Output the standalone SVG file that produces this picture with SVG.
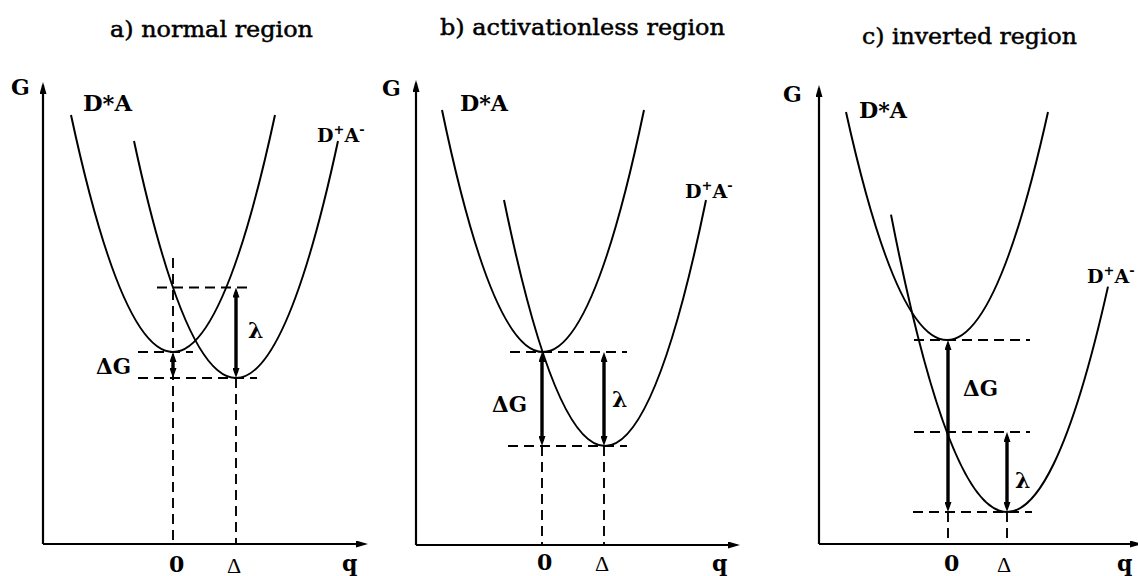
<svg xmlns="http://www.w3.org/2000/svg" width="1138" height="576" viewBox="0 0 1138 576">
<defs>
<marker id="ax" viewBox="0 0 12 7" refX="9" refY="3.5" markerWidth="12" markerHeight="7" markerUnits="userSpaceOnUse" orient="auto"><path d="M0,0 L12,3.5 L0,7 z" fill="#000"/></marker>
<marker id="ah" viewBox="0 0 10 7" refX="5" refY="3.5" markerWidth="10" markerHeight="7" markerUnits="userSpaceOnUse" orient="auto-start-reverse"><path d="M0,0 L10,3.5 L0,7 z" fill="#000"/></marker>
</defs>
<style>
.curve{fill:none;stroke:#000;stroke-width:2}
.dash{fill:none;stroke:#000;stroke-width:1.9;stroke-dasharray:10 6}
.axis{fill:none;stroke:#000;stroke-width:2.2;marker-end:url(#ax)}
.arr{fill:none;stroke:#000;stroke-width:3.4;marker-start:url(#ah);marker-end:url(#ah)}
.title{font-family:"DejaVu Serif","Liberation Serif",serif;font-size:23px;fill:#000;stroke:#000;stroke-width:0.5}
.lbl{font-family:"DejaVu Serif","Liberation Serif",serif;font-size:22px;font-weight:bold;fill:#000}
.da{font-family:"DejaVu Serif","Liberation Serif",serif;font-size:19px;font-weight:bold;fill:#000}
.sup{font-size:13px}
.sym{font-family:"Liberation Serif","DejaVu Serif",serif;font-size:22px;fill:#000}
</style>
<rect width="1138" height="576" fill="#fff"/>

<!-- Panel a -->
<g id="panel-a">
  <text id="a-title" class="title" x="110" y="37" textLength="203" lengthAdjust="spacingAndGlyphs">a) normal region</text>
  <g id="a-axes">
    <path class="axis" d="M43,544 L43,85"/>
    <path class="axis" d="M43,544 L365,544"/>
    <text class="lbl" x="11" y="95">G</text>
    <text class="lbl" x="342" y="571">q</text>
    <text class="lbl" x="169" y="572">0</text>
    <text class="sym" x="227" y="573">Δ</text>
  </g>
  <g id="a-DA">
    <path class="curve" d="M71,115 Q173,589 275,115"/>
    <text class="lbl" x="83" y="111" textLength="49" lengthAdjust="spacingAndGlyphs">D*A</text>
  </g>
  <g id="a-DpAm">
    <path class="curve" d="M134,141 Q236,615 338,141"/>
    <text class="da" x="317" y="142">D<tspan class="sup" dy="-8">+</tspan><tspan dy="8">A</tspan><tspan class="sup" dy="-8">-</tspan></text>
  </g>
  <g id="a-connectors">
    <path class="dash" d="M173,258 L173,544"/>
    <path class="dash" d="M236,378 L236,544"/>
    <path class="dash" d="M157,287.5 L252,287.5"/>
    <path class="dash" d="M138,352 L193,352"/>
    <path class="dash" d="M138,378 L257,378"/>
    <path class="arr" d="M236,292.5 L236,373"/>
    <path class="arr" d="M173,357 L173,373"/>
  </g>
  <text class="lbl" x="248" y="338">λ</text>
  <text class="lbl" x="96" y="374" textLength="35" lengthAdjust="spacingAndGlyphs">ΔG</text>
</g>

<!-- Panel b -->
<g id="panel-b">
  <text id="b-title" class="title" x="440" y="35" textLength="285" lengthAdjust="spacingAndGlyphs">b) activationless region</text>
  <g id="b-axes">
    <path class="axis" d="M416,545 L416,83"/>
    <path class="axis" d="M416,545 L737,545"/>
    <text class="lbl" x="382" y="96">G</text>
    <text class="lbl" x="712" y="571">q</text>
    <text class="lbl" x="537" y="570">0</text>
    <text class="sym" x="595" y="571">Δ</text>
  </g>
  <g id="b-DA">
    <path class="curve" d="M442,110 Q543,594 644,110"/>
    <text class="lbl" x="460" y="111" textLength="48" lengthAdjust="spacingAndGlyphs">D*A</text>
  </g>
  <g id="b-DpAm">
    <path class="curve" d="M504,200 Q605,692 706,200"/>
    <text class="da" x="685" y="198">D<tspan class="sup" dy="-8">+</tspan><tspan dy="8">A</tspan><tspan class="sup" dy="-8">-</tspan></text>
  </g>
  <g id="b-connectors">
    <path class="dash" d="M542,446 L542,545"/>
    <path class="dash" d="M604,446 L604,545"/>
    <path class="dash" d="M510,352 L627,352"/>
    <path class="dash" d="M508,446 L627,446"/>
    <path class="arr" d="M542,357 L542,441"/>
    <path class="arr" d="M604,357 L604,441"/>
  </g>
  <text class="lbl" x="492" y="412" textLength="35" lengthAdjust="spacingAndGlyphs">ΔG</text>
  <text class="lbl" x="612" y="407">λ</text>
</g>

<!-- Panel c -->
<g id="panel-c">
  <text id="c-title" class="title" x="862" y="44" textLength="215" lengthAdjust="spacingAndGlyphs">c) inverted region</text>
  <g id="c-axes">
    <path class="axis" d="M819,544 L819,88"/>
    <path class="axis" d="M819,544 L1139,544"/>
    <text class="lbl" x="783" y="102">G</text>
    <text class="lbl" x="1117" y="571">q</text>
    <text class="lbl" x="944" y="571">0</text>
    <text class="sym" x="997" y="572">Δ</text>
  </g>
  <g id="c-DA">
    <path class="curve" d="M846,112 Q947,568 1048,112"/>
    <text class="lbl" x="859" y="118" textLength="48" lengthAdjust="spacingAndGlyphs">D*A</text>
  </g>
  <g id="c-DpAm">
    <path class="curve" d="M891,214.6 Q999.5,770.9 1108,286.6"/>
    <text class="da" x="1087" y="283">D<tspan class="sup" dy="-8">+</tspan><tspan dy="8">A</tspan><tspan class="sup" dy="-8">-</tspan></text>
  </g>
  <g id="c-connectors">
    <path class="dash" d="M948,512 L948,544"/>
    <path class="dash" d="M1007,512 L1007,544"/>
    <path class="dash" d="M914,340 L1030,340"/>
    <path class="dash" d="M914,432 L1030,432"/>
    <path class="dash" d="M913,512 L1032,512"/>
    <path class="arr" d="M948,345 L948,507"/>
    <path class="arr" d="M1007,437 L1007,507"/>
  </g>
  <text class="lbl" x="963" y="396" textLength="35" lengthAdjust="spacingAndGlyphs">ΔG</text>
  <text class="lbl" x="1015" y="488">λ</text>
</g>
</svg>
